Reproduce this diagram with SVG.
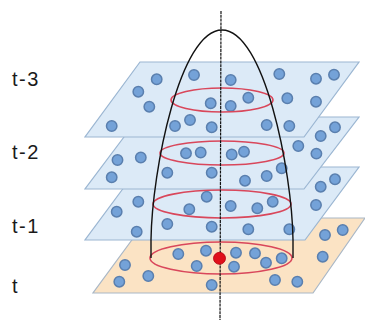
<svg xmlns="http://www.w3.org/2000/svg" width="365" height="320" viewBox="0 0 365 320">
<defs>
<style>
.plane{fill:#dceaf7;stroke:#9bb6d2;stroke-width:1.2}
.plane-t{fill:#fbe3c4;stroke:#a9b7c6;stroke-width:1.2}
.dot{fill:#74a2d8;stroke:#5a7fae;stroke-width:1.5}
.ring{fill:none;stroke:#d9475b;stroke-width:1.6}
.cone{fill:none;stroke:#111;stroke-width:1.4}
.axis{stroke:#111;stroke-width:1.2;stroke-dasharray:3 0.8}
.lbl{font-family:"Liberation Sans",Arial,sans-serif;font-size:20px;fill:#1a1a1a;letter-spacing:1.5px}
</style>
<circle id="d" r="5.2" class="dot"/>
</defs>
<rect width="365" height="320" fill="#fff"/>

<g id="plane-t">
<polygon class="plane-t" points="93,293 313,293 365,218 148,218"/>
<use href="#d" x="325" y="235"/><use href="#d" x="342.7" y="230"/><use href="#d" x="322.7" y="256.7"/>
<use href="#d" x="178.3" y="254"/><use href="#d" x="206" y="250.7"/><use href="#d" x="236" y="252.7"/>
<use href="#d" x="255" y="253.3"/><use href="#d" x="281.7" y="258.3"/><use href="#d" x="266" y="262.7"/>
<use href="#d" x="196.7" y="266"/><use href="#d" x="234" y="266.7"/><use href="#d" x="125" y="265"/>
<use href="#d" x="119.3" y="281.7"/><use href="#d" x="148.3" y="276"/><use href="#d" x="211.7" y="285"/>
<use href="#d" x="275" y="280"/><use href="#d" x="297.3" y="281.7"/>
</g>

<g id="plane-t-1">
<polygon class="plane" points="85,240 305,240 359,167 139,167"/>
<use href="#d" x="335" y="179.3"/><use href="#d" x="320.7" y="186.7"/><use href="#d" x="316" y="205"/>
<use href="#d" x="138.3" y="201.7"/><use href="#d" x="116.7" y="211.7"/><use href="#d" x="206.7" y="196.7"/>
<use href="#d" x="189.3" y="209.3"/><use href="#d" x="230.7" y="206"/><use href="#d" x="257.3" y="208.3"/>
<use href="#d" x="272.7" y="201.7"/><use href="#d" x="167.3" y="224"/><use href="#d" x="136.7" y="231.7"/>
<use href="#d" x="211.7" y="226.7"/><use href="#d" x="248.3" y="229.3"/><use href="#d" x="289.3" y="229.3"/>
</g>

<g id="plane-t-2">
<polygon class="plane" points="85,189 304,189 359,117 139,117"/>
<use href="#d" x="335" y="127.3"/><use href="#d" x="320.7" y="136"/><use href="#d" x="298.3" y="146"/>
<use href="#d" x="316.4" y="153.6"/><use href="#d" x="186" y="153.3"/><use href="#d" x="200.7" y="152.5"/>
<use href="#d" x="231.7" y="154.5"/><use href="#d" x="244" y="151.7"/><use href="#d" x="117.5" y="160"/>
<use href="#d" x="140.8" y="157.5"/><use href="#d" x="111.7" y="177.3"/><use href="#d" x="167.3" y="172.7"/>
<use href="#d" x="211.7" y="172.7"/><use href="#d" x="245" y="180.7"/><use href="#d" x="266.7" y="176"/>
<use href="#d" x="281.7" y="168.3"/>
</g>

<g id="plane-t-3">
<polygon class="plane" points="85,137 304,137 359,62 140,62"/>
<use href="#d" x="156.7" y="79.3"/><use href="#d" x="194" y="75"/><use href="#d" x="230.7" y="80"/>
<use href="#d" x="279.3" y="74"/><use href="#d" x="316" y="78.7"/><use href="#d" x="334" y="74.7"/>
<use href="#d" x="138.3" y="91.7"/><use href="#d" x="149.3" y="106.7"/><use href="#d" x="210.7" y="103.3"/>
<use href="#d" x="230.7" y="106"/><use href="#d" x="248.3" y="97.7"/><use href="#d" x="287.3" y="98.3"/>
<use href="#d" x="316" y="101.7"/><use href="#d" x="111.7" y="126"/><use href="#d" x="175" y="126"/>
<use href="#d" x="190" y="120"/><use href="#d" x="211.7" y="127.3"/><use href="#d" x="266.7" y="125"/>
<use href="#d" x="289.3" y="126"/>
</g>

<g id="cone">
<ellipse class="ring" cx="222" cy="100" rx="51" ry="12"/>
<ellipse class="ring" cx="222" cy="153" rx="62" ry="12"/>
<ellipse class="ring" cx="222" cy="204" rx="69" ry="14"/>
<ellipse class="ring" cx="221" cy="258" rx="71" ry="16"/>
<path class="cone" d="M151,258 L151,240 C152,170 180,30 222,30 C264,30 292,170 293,240 L293,258"/>
<line class="axis" x1="221" y1="11" x2="220" y2="320"/>
<circle cx="219.5" cy="258.3" r="6" fill="#e0101a" stroke="#b00010" stroke-width="0.8"/>
</g>

<g id="labels">
<text class="lbl" x="12" y="86">t-3</text>
<text class="lbl" x="12" y="159">t-2</text>
<text class="lbl" x="12" y="233">t-1</text>
<text class="lbl" x="12" y="293">t</text>
</g>
</svg>
